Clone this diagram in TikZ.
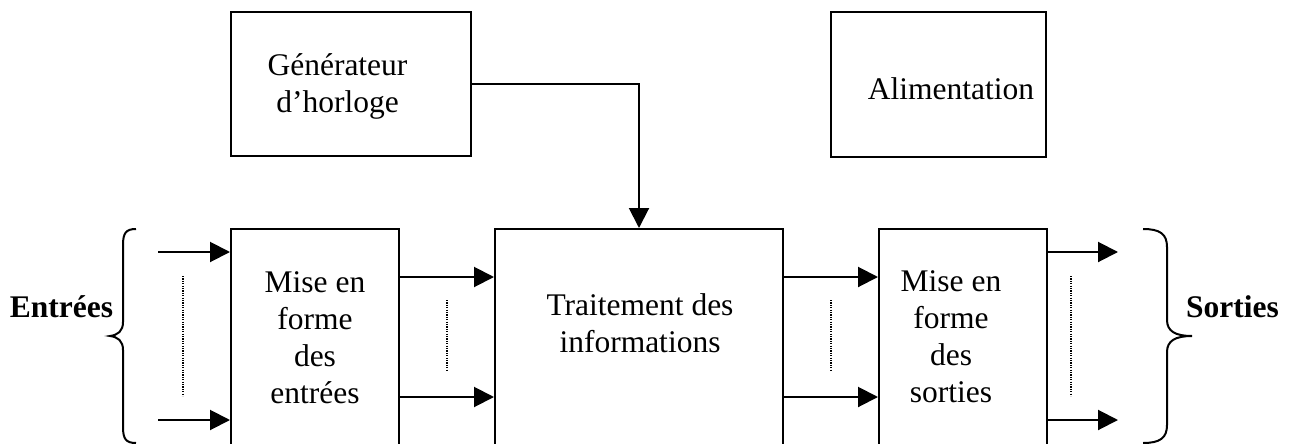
\documentclass[tikz,border=0pt]{standalone}
\usepackage{fontspec}
\setmainfont{Liberation Serif}
\usetikzlibrary{arrows.meta}
\tikzset{
  box/.style={draw, line width=2pt, rectangle, inner sep=0pt},
  lbl/.style={inner sep=0pt, anchor=base, font=\fontsize{31.5}{37}\selectfont},
  blbl/.style={inner sep=0pt, anchor=base, font=\fontsize{31.5}{37}\selectfont\bfseries},
  arr/.style={line width=2pt, -{Triangle[length=20pt,width=20pt]}},
  dots/.style={line width=1.2pt, dash pattern=on 1.2pt off 1.2pt},
  brace/.style={line width=2pt}
}
\newcommand{\ml}[1]{\begin{tabular}[t]{@{}c@{}}#1\end{tabular}}
\begin{document}
\begin{tikzpicture}[x=1pt,y=-1pt]
\useasboundingbox (0,0) rectangle (1295,444);
\clip (0,0) rectangle (1295,444);
% boxes
\node[box, minimum width=240pt, minimum height=144pt] (gen) at (351,84) {};
\node[box, minimum width=215pt, minimum height=145pt] (alim) at (938.5,84.5) {};
\node[box, minimum width=168pt, minimum height=241pt] (mee) at (315,349.5) {};
\node[box, minimum width=288pt, minimum height=241pt] (trt) at (639,349.5) {};
\node[box, minimum width=168pt, minimum height=241pt] (mes) at (963,349.5) {};
% texts
\node[lbl] (tgen) at (337.5,75) {\ml{Générateur\\d’horloge}};
\node[lbl] (talim) at (951,99) {Alimentation};
\node[lbl] (tmee) at (315,292) {\ml{Mise en\\forme\\des\\entrées}};
\node[lbl] (ttrt) at (640,315) {\ml{Traitement des\\informations}};
\node[lbl] (tmes) at (951,291) {\ml{Mise en\\forme\\des\\sorties}};
\node[blbl] (tin) at (61.5,317) {Entrées};
\node[blbl] (tout) at (1232.5,317) {Sorties};
% coordinates
\coordinate (in1) at (158,252);
\coordinate (in2) at (158,420);
\coordinate (out1) at (1118,252);
\coordinate (out2) at (1118,420);
\coordinate (m1) at (0,277);
\coordinate (m2) at (0,397);
% arrows
\draw[arr] (gen.east) -| (trt.north);
\draw[arr] (in1) -- (in1 -| mee.west);
\draw[arr] (in2) -- (in2 -| mee.west);
\draw[arr] (mee.east |- m1) -- (trt.west |- m1);
\draw[arr] (mee.east |- m2) -- (trt.west |- m2);
\draw[arr] (trt.east |- m1) -- (mes.west |- m1);
\draw[arr] (trt.east |- m2) -- (mes.west |- m2);
\draw[arr] (mes.east |- out1) -- (out1);
\draw[arr] (mes.east |- out2) -- (out2);
% dotted
\draw[dots] (183,276) -- (183,396);
\draw[dots] (447,300) -- (447,371);
\draw[dots] (831,300) -- (831,371);
\draw[dots] (1071,276) -- (1071,396);
% braces
\draw[brace] (136,229) .. controls (126,229) and (123,233) .. (123,245) -- (123,322)
  .. controls (123,331) and (118,335) .. (110,336)
  .. controls (118,337) and (123,341) .. (123,350) -- (123,427)
  .. controls (123,439) and (126,443) .. (136,443);
\draw[brace] (1143,229) .. controls (1160,229) and (1167,234) .. (1167,247) -- (1167,320)
  .. controls (1167,331) and (1175,336) .. (1192,336)
  .. controls (1175,336) and (1167,341) .. (1167,352) -- (1167,425)
  .. controls (1167,438) and (1160,443) .. (1143,443);
\end{tikzpicture}
\end{document}
